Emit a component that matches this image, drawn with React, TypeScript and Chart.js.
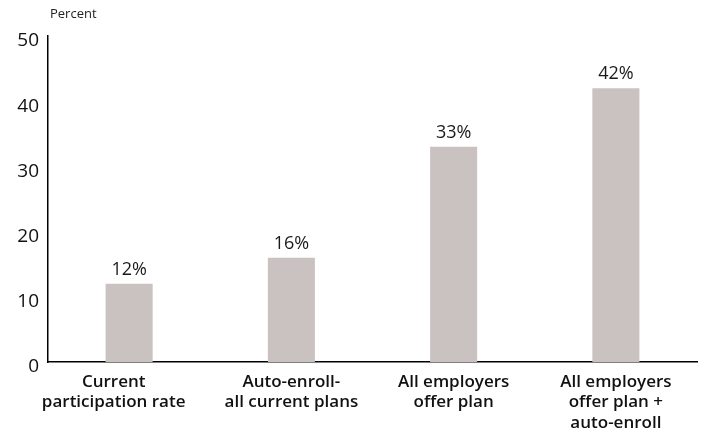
import React, { useEffect, useRef } from "react";
import { Chart, registerables } from "chart.js";
Chart.register(...registerables);

const categories: string[][] = [
  ["Current       ", "participation rate       "],
  ["Auto-enroll-", "all current plans"],
  ["All employers", "offer plan"],
  ["All employers", "offer plan +", "auto-enroll"],
];
const values: number[] = [12, 16, 33, 42];
const valueLabels: string[] = ["12%", "16%", "33%", "42%"];
const yTicks: number[] = [0, 10, 20, 30, 40, 50];
const yAxisTitle = "Percent";

const FONT = "'Open Sans', Lato, sans-serif";

const overlay = {
  id: "overlay",
  afterDatasetsDraw(chart: any) {
    const ctx = chart.ctx;
    const meta = chart.getDatasetMeta(0);
    ctx.save();
    ctx.fillStyle = "#1a1a1a";
    ctx.font = `400 18px ${FONT}`;
    ctx.textAlign = "center";
    ctx.textBaseline = "alphabetic";
    meta.data.forEach((bar: any, i: number) => {
      ctx.fillText(valueLabels[i], bar.x, bar.y - 9);
    });
    ctx.font = `400 13px ${FONT}`;
    ctx.textAlign = "left";
    ctx.textBaseline = "middle";
    ctx.fillStyle = "#222";
    ctx.fillText(yAxisTitle, chart.chartArea.left + 2, 14);
    ctx.restore();
  },
};

export default function App() {
  const ref = useRef<HTMLCanvasElement>(null);
  useEffect(() => {
    document.body.style.margin = "0";
    const chart = new Chart(ref.current!, {
      type: "bar",
      data: {
        labels: categories,
        datasets: [
          {
            data: values,
            backgroundColor: "#cac2c0",
            barPercentage: 0.29,
            categoryPercentage: 1,
          },
        ],
      },
      options: {
        animation: false,
        responsive: false,
        layout: { padding: { top: 36, right: 8, left: 0, bottom: 0 } },
        plugins: { legend: { display: false }, tooltip: { enabled: false } },
        scales: {
          x: {
            grid: { display: false, drawTicks: false },
            border: { display: true, color: "#000", width: 1.5 },
            ticks: {
              color: "#111",
              font: { family: FONT, size: 17, weight: "600", lineHeight: 1.2 },
              padding: 10,
              maxRotation: 0,
              autoSkip: false,
            },
            afterFit: (s: any) => {
              s.height = 79;
            },
          },
          y: {
            min: 0,
            max: 50,
            afterBuildTicks: (s: any) => {
              s.ticks = yTicks.map((v) => ({ value: v }));
            },
            grid: { display: false, drawTicks: false },
            border: { display: true, color: "#000", width: 1.5 },
            ticks: {
              color: "#111",
              font: { family: FONT, size: 19, weight: "400" },
              padding: 9,
              labelOffset: 5,
            },
            afterFit: (s: any) => {
              s.width = 48;
            },
          },
        },
      },
      plugins: [overlay],
    });
    return () => chart.destroy();
  }, []);
  return (
    <div style={{ width: 705, height: 441 }}>
      <canvas ref={ref} width={705} height={441} />
    </div>
  );
}
